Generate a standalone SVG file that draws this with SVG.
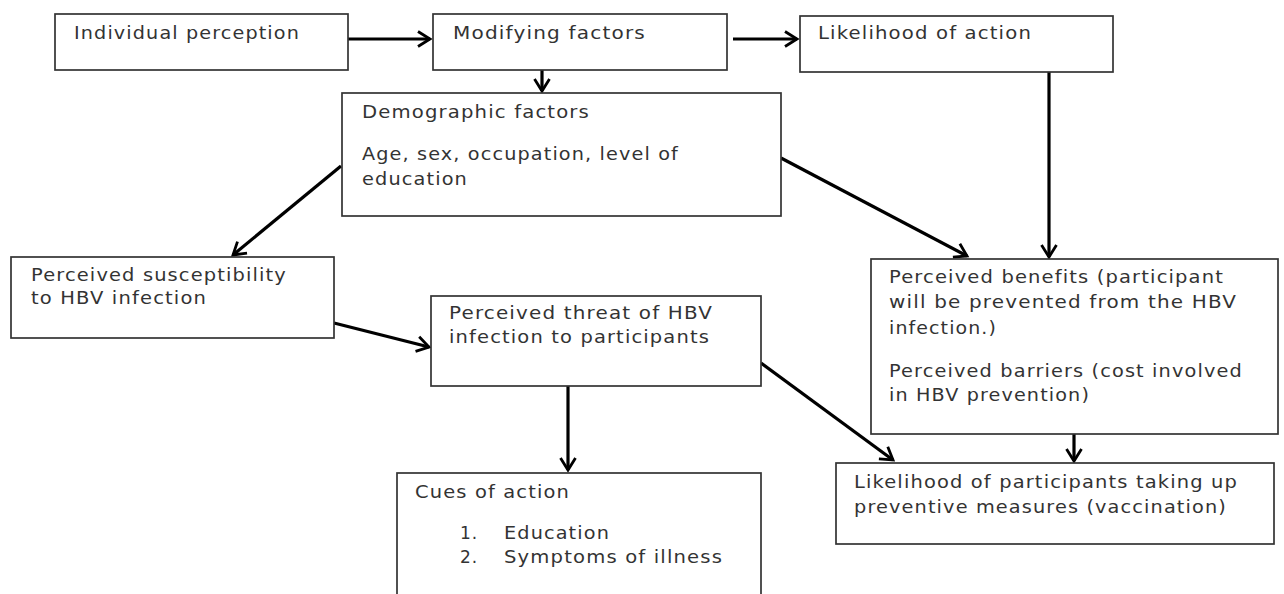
<svg xmlns="http://www.w3.org/2000/svg" width="1284" height="594" viewBox="0 0 1284 594">
<style>
.box{fill:#fff;stroke:#333;stroke-width:1.7}
.t{font-family:"DejaVu Sans",Verdana,sans-serif;font-size:17px;letter-spacing:1px;fill:#333}
.c{stroke:#000;stroke-width:3.2;fill:none}
</style>
<defs>
<marker id="ah" markerUnits="userSpaceOnUse" markerWidth="20" markerHeight="20" viewBox="-2 -10 16 20" refX="12" refY="0" orient="auto">
<path d="M0,-7.5 L12,0 L0,7.5" fill="none" stroke="#000" stroke-width="2.8" stroke-linejoin="miter"/>
</marker>
</defs>
<rect width="1284" height="594" fill="#fff"/>
<g id="connectors">
<line class="c" x1="348" y1="39" x2="430" y2="39" marker-end="url(#ah)"/>
<line class="c" x1="733" y1="39" x2="797" y2="39" marker-end="url(#ah)"/>
<line class="c" x1="542" y1="70" x2="542" y2="91" marker-end="url(#ah)"/>
<line class="c" x1="1049" y1="72" x2="1049" y2="257" marker-end="url(#ah)"/>
<line class="c" x1="341" y1="166" x2="233" y2="255" marker-end="url(#ah)"/>
<line class="c" x1="781" y1="158" x2="967" y2="256" marker-end="url(#ah)"/>
<line class="c" x1="334" y1="323" x2="429" y2="347" marker-end="url(#ah)"/>
<line class="c" x1="568" y1="386" x2="568" y2="470" marker-end="url(#ah)"/>
<line class="c" x1="761" y1="363" x2="893" y2="460" marker-end="url(#ah)"/>
<line class="c" x1="1074" y1="434" x2="1074" y2="461" marker-end="url(#ah)"/>
</g>
<g id="individual-perception">
<rect class="box" x="55" y="14" width="293" height="56"/>
<text class="t" x="74" y="39" textLength="226" lengthAdjust="spacingAndGlyphs">Individual perception</text>
</g>
<g id="modifying-factors">
<rect class="box" x="433" y="14" width="294" height="56"/>
<text class="t" x="453" y="39" textLength="193" lengthAdjust="spacingAndGlyphs">Modifying factors</text>
</g>
<g id="likelihood-of-action">
<rect class="box" x="800" y="16" width="313" height="56"/>
<text class="t" x="818" y="39" textLength="214" lengthAdjust="spacingAndGlyphs">Likelihood of action</text>
</g>
<g id="demographic-factors">
<rect class="box" x="342" y="93" width="439" height="123"/>
<text class="t" x="362" y="118" textLength="228" lengthAdjust="spacingAndGlyphs">Demographic factors</text>
<text class="t" x="362" y="160" textLength="317" lengthAdjust="spacingAndGlyphs">Age, sex, occupation,  level of</text>
<text class="t" x="362" y="185" textLength="106" lengthAdjust="spacingAndGlyphs">education</text>
</g>
<g id="perceived-susceptibility">
<rect class="box" x="11" y="257" width="323" height="81"/>
<text class="t" x="31" y="281" textLength="256" lengthAdjust="spacingAndGlyphs">Perceived susceptibility</text>
<text class="t" x="31" y="304" textLength="176" lengthAdjust="spacingAndGlyphs">to HBV infection</text>
</g>
<g id="perceived-threat">
<rect class="box" x="431" y="296" width="330" height="90"/>
<text class="t" x="449" y="319" textLength="264" lengthAdjust="spacingAndGlyphs">Perceived threat of HBV</text>
<text class="t" x="449" y="343" textLength="261" lengthAdjust="spacingAndGlyphs">infection to participants</text>
</g>
<g id="cues-of-action">
<rect class="box" x="397" y="473" width="364" height="140"/>
<text class="t" x="415" y="498" textLength="155" lengthAdjust="spacingAndGlyphs">Cues of action</text>
<text class="t" x="460" y="539">1.</text>
<text class="t" x="504" y="539" textLength="106" lengthAdjust="spacingAndGlyphs">Education</text>
<text class="t" x="460" y="563">2.</text>
<text class="t" x="504" y="563" textLength="219" lengthAdjust="spacingAndGlyphs">Symptoms of illness</text>
</g>
<g id="perceived-benefits-barriers">
<rect class="box" x="871" y="259" width="407" height="175"/>
<text class="t" x="889" y="283" textLength="335" lengthAdjust="spacingAndGlyphs">Perceived benefits (participant</text>
<text class="t" x="889" y="308" textLength="348" lengthAdjust="spacingAndGlyphs">will be prevented from the HBV</text>
<text class="t" x="889" y="334" textLength="108" lengthAdjust="spacingAndGlyphs">infection.)</text>
<text class="t" x="889" y="377" textLength="354" lengthAdjust="spacingAndGlyphs">Perceived barriers (cost involved</text>
<text class="t" x="889" y="401" textLength="201" lengthAdjust="spacingAndGlyphs">in HBV prevention)</text>
</g>
<g id="likelihood-of-participants">
<rect class="box" x="836" y="463" width="438" height="81"/>
<text class="t" x="854" y="488" textLength="384" lengthAdjust="spacingAndGlyphs">Likelihood of participants taking up</text>
<text class="t" x="854" y="513" textLength="373" lengthAdjust="spacingAndGlyphs">preventive measures (vaccination)</text>
</g>
</svg>
